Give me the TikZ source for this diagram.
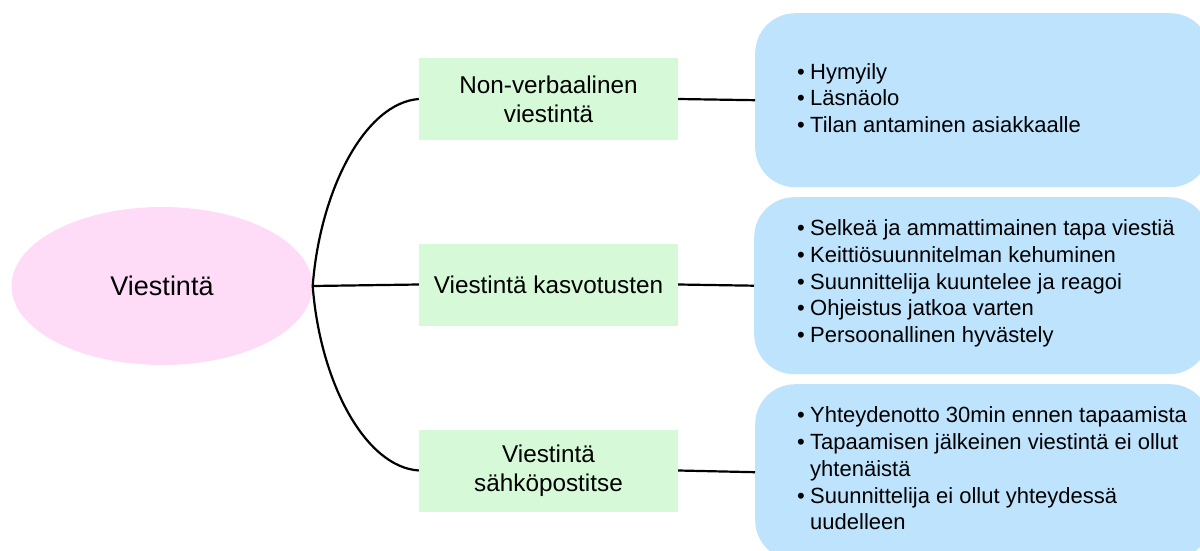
\documentclass[tikz,border=0pt]{standalone}
\usepackage{fontspec}
\setmainfont{Liberation Sans}
\usetikzlibrary{shapes.geometric}

\definecolor{rootpink}{RGB}{254,220,247}
\definecolor{topicgreen}{RGB}{214,250,216}
\definecolor{detailblue}{RGB}{190,227,253}

% bullet and continuation indent for the detail lists
\newcommand\itm{\makebox[13pt][l]{\textbullet}}
\newcommand\cont{\hspace*{13pt}}

\begin{document}
\begin{tikzpicture}[x=1pt,y=-1pt,
  root/.style={ellipse, fill=rootpink, minimum width=301pt, minimum height=158pt,
    inner sep=0pt, font=\fontsize{27}{32}\selectfont},
  topic/.style={rectangle, fill=topicgreen, minimum width=259pt, minimum height=82pt,
    align=center, inner sep=0pt, font=\fontsize{24.3}{29}\selectfont},
  detail/.style={rectangle, fill=detailblue, rounded corners=40pt, inner sep=0pt,
    anchor=north west, minimum width=455pt},
  items/.style={anchor=west, align=left, inner sep=0pt,
    font=\fontsize{22}{26.7}\selectfont},
  link/.style={line width=2.2pt, black}]

\useasboundingbox (0,0) rectangle (1200,551);
\clip (0,0) rectangle (1200,551);

% central topic
\node[root] (root) at (162,286) {Viestintä};

% sub-topics
\node[topic] (n1) at (548.5,99)    {Non-verbaalinen\\viestintä};
\node[topic] (n2) at (548.5,284.5) {Viestintä kasvotusten};
\node[topic] (n3) at (548.5,470.5) {Viestintä\\sähköpostitse};

% detail panels
\node[detail, minimum height=174pt] (d1) at (755,13)  {};
\node[detail, minimum height=177pt] (d2) at (754,197) {};
\node[detail, minimum height=176pt] (d3) at (755,384) {};

\node[items] (l1) at (797,98) {%
  \itm Hymyily\\
  \itm Läsnäolo\\
  \itm Tilan antaminen asiakkaalle};
\node[items] (l2) at (797,283.5) {%
  \itm Selkeä ja ammattimainen tapa viestiä\\
  \itm Keittiösuunnitelman kehuminen\\
  \itm Suunnittelija kuuntelee ja reagoi\\
  \itm Ohjeistus jatkoa varten\\
  \itm Persoonallinen hyvästely};
\node[items] (l3) at (797,468.5) {%
  \itm Yhteydenotto 30min ennen tapaamista\\
  \itm Tapaamisen jälkeinen viestintä ei ollut\\
  \cont yhtenäistä\\
  \itm Suunnittelija ei ollut yhteydessä\\
  \cont uudelleen};

% connectors
\draw[link] (root.east) .. controls (320,190) and (365,103) .. (n1.west);
\draw[link] (root.east) -- (n2.west);
\draw[link] (root.east) .. controls (320,382) and (365,467) .. (n3.west);

\draw[link] (n1.east) -- (d1.west);
\draw[link] (n2.east) -- (d2.west);
\draw[link] (n3.east) -- (d3.west);
\end{tikzpicture}
\end{document}
